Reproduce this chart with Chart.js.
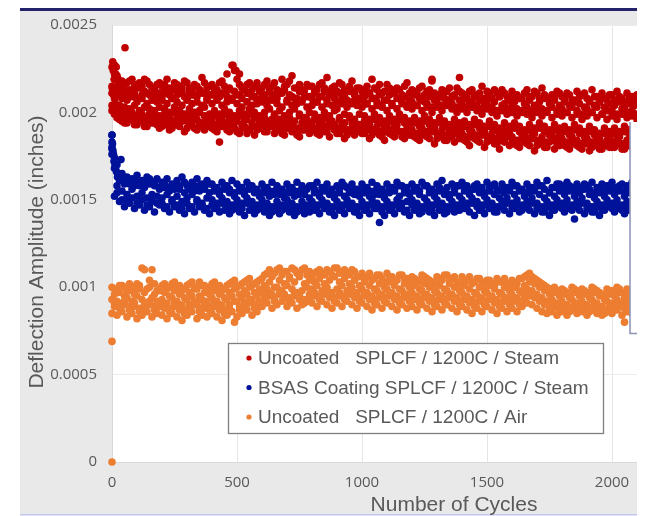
<!DOCTYPE html>
<html>
<head>
<meta charset="utf-8">
<title>Deflection Amplitude vs Number of Cycles</title>
<script src="https://cdn.jsdelivr.net/npm/chart.js@4.4.1/dist/chart.umd.min.js"></script>
<style>
  html, body { margin: 0; padding: 0; background: #fff; }
  #wrap { width: 647px; height: 516px; }
</style>
</head>
<body>
<div id="wrap"><canvas id="myChartScatter" width="647" height="516"></canvas></div>
<script>
/* globals Chart:false */
// amplitudes are in units of 1e-5 inch
const UNIT = 1e-5;

const seriesLabels = [
  'Uncoated   SPLCF / 1200C / Steam',
  'BSAS Coating SPLCF / 1200C / Steam',
  'Uncoated   SPLCF / 1200C / Air'
];
const xTickValues = [0, 500, 1000, 1500, 2000];
const xTickLabels = ['0', '500', '1000', '1500', '2000'];
const yTickLabels = ['0', '0.0005', '0.001', '0.0015', '0.002', '0.0025'];

const cyclesA = [0,20,40,60,80,100,120,140,160,180,200,220,240,260,280,300,320,340,360,380,
  400,420,440,460,480,500,520,540,560,580,600,620,640,660,680,700,720,740,760,780,
  800,820,840,860,880,900,920,940,960,980,1000,1020,1040,1060,1080,1100,1120,1140,1160,1180,
  1200,1220,1240,1260,1280,1300,1320,1340,1360,1380,1400,1420,1440,1460,1480,1500,1520,1540,1560,1580,
  1600,1620,1640,1660,1680,1700,1720,1740,1760,1780,1800,1820,1840,1860,1880,1900,1920,1940,1960,1980,
  2000,2020,2040,2060,2080,2100];
const cyclesB = [10,30,50,70,90,110,130,150,170,190,210,230,250,270,290,310,330,350,370,390,
  410,430,450,470,490,510,530,550,570,590,610,630,650,670,690,710,730,750,770,790,
  810,830,850,870,890,910,930,950,970,990,1010,1030,1050,1070,1090,1110,1130,1150,1170,1190,
  1210,1230,1250,1270,1290,1310,1330,1350,1370,1390,1410,1430,1450,1470,1490,1510,1530,1550,1570,1590,
  1610,1630,1650,1670,1690,1710,1730,1750,1770,1790,1810,1830,1850,1870,1890,1910,1930,1950,1970,1990,
  2010,2030,2050,2070,2090];

// Uncoated SPLCF / 1200C / Steam
const steamUncoated1 = [226,221,218,217,219,216,215,218,214,216, 215,219,213,216,214,217,213,215,220,214,
  216,213,218,222,227,219,214,216,213,217, 214,218,215,213,219,216,221,214,212,216,
  215,213,217,220,214,212,216,213,218,214, 212,215,219,213,211,216,213,214,210,217,
  213,211,215,212,218,210,213,212,209,214, 211,209,213,210,215,212,208,211,213,209,
  212,210,208,213,209,211,214,208,210,212, 209,211,207,212,210,208,213,209,211,207,
  210,212,208,211,209,210];
const steamUncoated2 = [222,214,212,213,211,214,212,210,213,211, 212,210,213,211,209,212,210,213,211,210,
  212,209,211,214,212,210,213,211,209,212, 210,212,209,211,213,210,208,212,210,209,
  211,209,212,210,208,211,209,212,210,208, 209,211,208,210,207,210,212,208,209,207,
  210,208,206,209,207,210,208,206,209,207, 208,206,209,207,205,208,206,209,205,207,
  206,208,205,207,204,206,208,205,207,204, 206,204,207,205,203,206,204,207,203,205,
  204,206,203,205,204];
const steamUncoated3 = [215,209,208,207,209,206,208,205,207,206, 207,205,208,206,204,207,205,206,204,207,
  205,207,204,206,208,205,203,206,204,205, 206,204,207,205,203,206,204,205,207,203,
  204,206,203,205,204,202,205,203,206,204, 203,205,202,204,203,201,204,202,205,203,
  202,204,201,203,200,203,201,204,202,200, 202,200,203,201,199,202,200,198,201,199,
  200,198,201,199,197,200,198,201,197,199, 198,200,197,199,196,198,200,197,199,196,
  198,196,199,197,198,196];
const steamUncoated4 = [208,204,203,202,204,201,203,202,200,203, 202,200,203,201,199,202,200,201,203,199,
  201,199,202,200,198,201,199,202,200,198, 200,202,199,201,198,200,202,199,197,200,
  199,197,200,198,201,197,199,198,196,199, 198,196,199,197,195,198,196,199,197,195,
  197,195,198,196,194,197,195,193,196,194, 195,193,196,194,192,195,193,191,194,192,
  194,192,190,193,191,194,192,190,193,191, 192,190,193,191,189,192,190,188,191,189,
  191,189,192,190,188];
const steamUncoated5 = [204,200,199,198,200,197,199,196,198,197, 196,198,195,197,199,195,197,196,194,197,
  195,193,196,194,197,195,193,196,194,192, 195,193,196,194,192,195,193,191,194,196,
  193,191,194,192,195,191,193,190,194,192, 191,193,190,192,189,192,190,193,189,191,
  190,188,191,189,192,188,190,187,189,191, 188,186,189,187,190,186,188,185,187,189,
  186,184,187,185,188,184,186,183,187,185, 185,183,186,184,182,185,183,186,182,184,
  183,185,182,184,183,185];
const steamUncoated6 = [199,196,194,197,193,195,192,196,194,191, 193,190,194,192,189,193,191,194,190,192,
  190,183,192,189,191,188,192,190,187,191, 189,192,188,190,187,191,189,186,190,188,
  190,187,189,186,190,188,185,189,187,190, 188,185,189,187,184,188,186,189,185,187,
  186,184,187,185,182,186,184,187,183,185, 184,181,185,183,180,184,182,179,183,181,
  182,180,183,181,178,182,180,183,179,181, 181,179,182,180,183,178,181,179,182,180,
  180,182,179,181,180];
const steamUncoated7 = [219,217,216,218,215,217,219,216,214,217, 216,214,217,215,218,214,216,213,217,215,
  214,217,215,213,224,216,214,217,215,213, 216,214,217,212,215,218,214,216,213,215,
  213,216,214,212,215,217,213,215,212,214, 213,211,214,216,212,214,211,213,215,211,
  212,214,210,213,211,209,212,214,210,212, 210,212,209,211,208,211,213,209,211,208,
  210,208,211,209,212,208,210,207,209,211, 208,210,206,209,211,207,209,206,208,210,
  207,209,206,208,207];
const steamUncoated8 = [211,210,211,209,211,208,210,211,209,210, 209,211,208,210,212,208,210,209,211,208,
  210,208,211,209,207,210,208,211,209,207, 209,207,210,208,211,207,209,208,206,209,
  208,206,209,207,210,206,208,207,205,208, 207,205,208,206,204,207,205,208,206,204,
  206,204,207,205,203,206,204,207,205,203, 205,203,206,204,202,205,203,201,204,202,
  204,202,200,203,201,204,202,200,203,201, 202,200,203,201,199,202,200,203,199,201,
  201,199,202,200,201,199];
const steamUncoated9 = [202,201,199,201,198,200,197,199,201,198, 199,197,200,198,196,199,197,200,198,196,
  198,196,199,197,195,198,196,199,197,195, 197,195,198,196,194,197,195,198,196,194,
  196,194,197,195,193,196,194,197,195,193, 195,193,196,194,192,195,193,196,194,192,
  194,192,195,193,191,194,192,190,193,191, 192,190,193,191,189,192,190,188,191,189,
  191,189,187,190,188,191,189,187,190,188, 189,187,190,188,186,189,187,185,188,186,
  188,186,189,187,185];
const steamUncoated10 = [201,197,195,194,196,193,195,192,194,193, 192,194,191,193,195,191,193,190,192,194,
  191,189,192,190,193,189,191,188,192,190, 191,189,192,190,188,191,189,187,190,192,
  190,188,191,189,192,188,190,187,191,189, 188,190,187,189,186,189,187,190,186,188,
  187,185,188,186,189,185,187,184,186,188, 185,183,186,184,187,183,185,182,184,186,
  183,181,184,182,185,181,183,180,184,182, 182,180,183,181,179,182,180,183,179,181,
  180,182,179,181,180,182];
const steamUncoatedExtraCycles = [1,3,5,7,9,11,13,15,17,19,22,26,30,52,484,496,510,1280,1390];
const steamUncoatedExtraAmp = [214,229,224,210,219,227,205,222,226,212,220,216,218,237,227,224,222,219,220];

// BSAS Coating SPLCF / 1200C / Steam
const steamCoated1 = [187,170,165,163,162,164,161,163,160,162, 160,162,159,161,163,158,160,162,159,161,
  159,157,160,158,161,159,157,160,158,156, 159,157,160,158,156,159,157,160,158,156,
  158,160,157,159,156,158,160,157,159,156, 159,157,160,158,156,159,157,160,158,157,
  159,157,160,158,156,159,161,157,159,158, 160,158,156,159,157,160,158,156,159,157,
  160,158,156,159,157,160,158,161,157,159, 158,160,157,159,156,158,160,157,159,158,
  160,157,159,158,160,157];
const steamCoated2 = [174,163,159,161,158,160,157,159,158,156, 157,155,158,156,154,157,155,158,156,154,
  155,153,156,154,152,155,153,156,154,152, 154,152,155,153,151,154,152,155,153,151,
  154,152,155,153,151,154,152,155,153,152, 154,152,155,153,151,154,156,152,154,153,
  155,153,151,154,152,155,153,151,154,152, 155,153,156,154,152,155,153,151,154,156,
  153,155,152,154,156,153,151,154,152,155, 153,155,152,154,156,153,151,154,152,155,
  153,155,152,154,153];
const steamCoated3 = [180,158,155,153,156,152,154,151,153,152, 151,153,150,152,149,151,153,150,148,151,
  150,148,151,149,147,150,148,151,149,147, 150,148,146,149,147,150,148,146,149,147,
  149,147,150,148,146,149,147,150,148,146, 149,147,150,148,146,149,147,150,148,149,
  150,148,146,149,147,150,148,146,149,147, 150,148,151,149,147,150,148,146,149,151,
  148,150,147,149,151,148,146,149,147,150, 148,150,147,149,151,148,146,149,147,150,
  148,150,147,149,148,150];
const steamCoated4 = [152,149,146,148,145,147,144,146,143,147, 145,143,146,144,142,145,143,146,144,142,
  145,143,144,142,145,143,141,144,142,145, 143,141,144,142,145,143,141,144,142,143,
  144,142,145,143,141,144,142,145,143,141, 144,142,145,137,141,144,142,145,143,141,
  144,142,145,143,141,144,142,145,143,144, 145,143,141,144,142,145,143,146,144,142,
  145,143,146,144,142,145,143,141,144,146, 143,145,139,144,142,145,143,141,144,146,
  143,145,142,144,143];
const steamCoated5 = [168,161,162,159,161,158,160,162,159,157, 159,157,156,158,160,156,158,155,157,159,
  157,155,158,156,154,157,155,158,156,154, 157,155,153,156,154,157,155,153,156,158,
  156,154,157,155,153,156,158,154,156,155, 157,155,153,156,154,157,155,158,156,154,
  157,155,158,156,154,157,155,153,156,158, 157,155,158,156,154,157,159,155,157,155,
  158,156,154,157,155,158,156,154,157,159, 156,158,155,157,159,156,154,157,155,158,
  156,158,155,157,156];
const steamCoated6 = [176,154,150,149,151,148,150,147,149,148, 148,146,149,147,145,148,146,149,147,145,
  147,145,148,146,144,147,145,148,146,144, 147,145,143,146,144,147,145,143,146,144,
  146,144,147,145,143,146,144,147,145,143, 146,144,147,145,143,146,144,147,145,144,
  147,145,143,146,144,147,145,143,146,144, 147,145,148,146,144,147,145,143,146,148,
  145,147,144,146,148,145,143,146,144,147, 145,147,144,146,148,145,143,146,144,147,
  145,147,144,146,145,147];
const steamCoatedExtraCycles = [0,0,0,2,4,6,8,12,14,18,22,28,36];
const steamCoatedExtraAmp = [187,183,179,182,178,176,172,170,168,166,163,165,173];

// Uncoated SPLCF / 1200C / Air
const airUncoated1 = [100,99,101,98,100,102,111,99,110,98, 101,99,102,100,98,101,103,99,101,100,
  102,100,98,101,103,100,102,104,101,103, 105,108,106,110,107,109,111,108,110,107,
  106,109,108,110,107,111,109,108,110,106, 108,106,104,107,105,108,106,104,107,105,
  106,104,107,105,103,106,104,107,105,103, 106,104,102,105,103,104,102,105,103,101,
  104,102,105,107,106,104,102,100,99,98, 99,97,100,98,99,97,100,98,96,99,
  98,100,97,99,98,97];
const airUncoated2 = [96,97,95,98,96,99,97,104,96,98, 97,95,98,96,94,97,99,95,97,96,
  98,96,94,97,99,96,98,100,97,99, 101,103,100,104,102,105,103,106,102,104,
  103,105,102,104,106,103,105,102,104,101, 103,101,99,102,100,103,101,99,102,100,
  101,99,102,100,98,101,99,102,100,98, 101,99,97,100,98,101,99,97,100,98,
  100,98,101,103,102,100,98,96,97,95, 96,94,97,95,96,94,97,95,93,96,
  95,97,94,96,95];
const airUncoated3 = [93,92,91,94,92,95,93,91,94,92, 93,91,94,92,90,93,95,91,93,92,
  94,92,90,93,95,92,94,96,93,95, 97,99,96,100,98,101,99,97,98,100,
  99,101,98,100,97,99,101,98,100,97, 99,97,95,98,96,99,97,95,98,96,
  97,95,98,96,94,97,95,98,96,94, 97,95,93,96,94,97,95,93,96,94,
  96,94,97,99,98,96,94,92,93,91, 92,90,93,91,92,90,93,91,89,92,
  91,93,90,92,91,93];
const airUncoated4 = [89,88,90,87,89,86,88,90,87,89, 88,86,89,87,85,88,90,86,88,87,
  89,87,85,88,80,87,89,91,88,90, 93,95,92,96,94,92,95,93,91,94,
  95,93,96,94,92,95,93,96,94,92, 95,93,91,94,92,95,93,91,94,92,
  93,91,94,92,90,93,91,94,92,90, 93,91,89,92,90,93,91,89,92,90,
  92,90,93,95,94,92,90,88,89,87, 88,86,89,87,88,86,89,87,85,88,
  87,89,80,88,87];
const airUncoated5 = [85,84,86,83,85,82,84,86,83,85, 84,82,85,83,81,84,86,82,84,83,
  85,83,81,84,86,83,85,87,84,86, 89,91,88,90,92,89,91,88,90,92,
  91,89,92,90,88,91,89,92,90,88, 91,89,87,90,88,91,89,87,90,88,
  89,87,90,88,86,89,87,90,88,86, 89,87,85,88,86,89,87,85,88,86,
  88,86,89,91,90,88,86,85,86,84, 86,84,87,85,86,84,87,85,84,86,
  85,87,84,86,85,87];
const airUncoated6 = [91,90,92,89,91,88,90,92,89,91, 90,88,91,89,87,90,92,88,90,89,
  91,89,87,90,92,89,91,93,90,92, 95,97,94,98,96,94,97,95,93,96,
  97,95,98,96,94,97,95,98,96,94, 97,95,93,96,94,97,95,93,96,94,
  95,93,96,94,92,95,93,96,94,92, 95,93,91,94,92,95,93,91,94,92,
  94,92,95,97,96,94,92,90,91,89, 90,88,91,89,90,88,91,89,87,90,
  89,91,88,90,89];
const airUncoated7 = [99,101,100,102,99,101,110,100,102,99, 102,100,103,101,99,102,100,103,101,99,
  103,101,99,102,104,101,103,105,102,104, 107,110,108,111,109,106,110,108,111,109,
  108,110,107,109,111,108,110,107,109,106, 106,108,105,107,103,106,104,107,105,103,
  105,103,106,104,102,105,107,104,106,102, 104,106,103,105,102,104,101,103,105,102,
  103,105,106,108,105,103,101,99,100,98, 98,96,99,97,98,96,99,97,95,98,
  97,99,96,98,97];
const airUncoatedExtraCycles = [0, 0];
const airUncoatedExtraAmp = [69, 0];

function toPoints(cycles, amps) {
  return amps.map((v, i) => ({ x: cycles[i], y: v * UNIT }));
}

const steamUncoatedData = [].concat(
  toPoints(cyclesA, steamUncoated1), toPoints(cyclesB, steamUncoated2),
  toPoints(cyclesA, steamUncoated3), toPoints(cyclesB, steamUncoated4),
  toPoints(cyclesA, steamUncoated5), toPoints(cyclesB, steamUncoated6),
  toPoints(cyclesB, steamUncoated7), toPoints(cyclesA, steamUncoated8),
  toPoints(cyclesB, steamUncoated9), toPoints(cyclesA, steamUncoated10),
  toPoints(steamUncoatedExtraCycles, steamUncoatedExtraAmp));
const steamCoatedData = [].concat(
  toPoints(cyclesA, steamCoated1), toPoints(cyclesB, steamCoated2),
  toPoints(cyclesA, steamCoated3), toPoints(cyclesB, steamCoated4),
  toPoints(cyclesB, steamCoated5), toPoints(cyclesA, steamCoated6),
  toPoints(steamCoatedExtraCycles, steamCoatedExtraAmp));
const airUncoatedData = [].concat(
  toPoints(cyclesA, airUncoated1), toPoints(cyclesB, airUncoated2),
  toPoints(cyclesA, airUncoated3), toPoints(cyclesB, airUncoated4),
  toPoints(cyclesA, airUncoated5), toPoints(cyclesB, airUncoated6),
  toPoints(cyclesB, airUncoated7),
  toPoints(airUncoatedExtraCycles, airUncoatedExtraAmp));

const textGray = '#595959';

// slide frame, legend box and axis titles
const slidePanel = {
  id: 'slidePanel',
  beforeDraw(chart) {
    const { ctx, chartArea: a } = chart;
    ctx.save();
    ctx.fillStyle = '#ffffff';
    ctx.fillRect(0, 0, chart.width, chart.height);
    ctx.fillStyle = '#e9e9e9';
    ctx.fillRect(20, 11, 617, 503);
    ctx.fillStyle = '#ffffff';
    ctx.fillRect(a.left, a.top, a.right - a.left, a.bottom - a.top);
    ctx.fillStyle = '#23236b';
    ctx.fillRect(20, 8, 617, 3);
    ctx.fillStyle = '#c6c6ee';
    ctx.fillRect(20, 514, 617, 1.5);
    ctx.restore();
  },
  afterDraw(chart) {
    const { ctx } = chart;
    ctx.save();
    ctx.fillStyle = '#ffffff';
    ctx.fillRect(637, 0, 10, chart.height);
    ctx.fillRect(630, 122, 7, 211.5);
    ctx.strokeStyle = '#8c93b5';
    ctx.lineWidth = 1.5;
    ctx.beginPath();
    ctx.moveTo(630, 122);
    ctx.lineTo(630, 333.5);
    ctx.lineTo(637, 333.5);
    ctx.stroke();

    // legend
    ctx.fillStyle = '#ffffff';
    ctx.fillRect(228.5, 343.5, 375, 90);
    ctx.strokeStyle = '#7f7f7f';
    ctx.lineWidth = 1.3;
    ctx.strokeRect(228.5, 343.5, 375, 90);
    ctx.font = '19px "Liberation Sans", Arial, sans-serif';
    ctx.textBaseline = 'middle';
    ctx.textAlign = 'left';
    chart.data.datasets.forEach((ds, i) => {
      const cy = 358 + i * 29.5;
      ctx.fillStyle = ds.backgroundColor;
      ctx.beginPath();
      ctx.arc(249, cy, 2.6, 0, Math.PI * 2);
      ctx.fill();
      ctx.fillStyle = textGray;
      ctx.fillText(ds.label, 258, cy + 1);
    });

    // axis titles
    ctx.font = '21px "Liberation Sans", Arial, sans-serif';
    ctx.fillStyle = textGray;
    ctx.textAlign = 'center';
    ctx.fillText('Number of Cycles', 454, 505);
    ctx.translate(37, 252);
    ctx.rotate(-Math.PI / 2);
    ctx.fillText('Deflection Amplitude (inches)', 0, 0);
    ctx.restore();
  }
};

const myChartScatter = document.getElementById('myChartScatter');
if (myChartScatter) {
  new Chart(myChartScatter, {
    type: 'scatter',
    data: {
      datasets: [{
        label: seriesLabels[0],
        data: steamUncoatedData,
        backgroundColor: '#c00000'
      }, {
        label: seriesLabels[1],
        data: steamCoatedData,
        backgroundColor: '#00129a'
      }, {
        label: seriesLabels[2],
        data: airUncoatedData,
        backgroundColor: '#ed7d31'
      }]
    },
    options: {
      responsive: false,
      animation: false,
      devicePixelRatio: 1,
      events: [],
      clip: false,
      layout: { padding: { left: 0, right: 10, top: 25, bottom: 0 } },
      elements: {
        point: { radius: 3.8, borderWidth: 0, hoverRadius: 3.8 }
      },
      plugins: {
        legend: { display: false },
        tooltip: { enabled: false },
        title: { display: false }
      },
      scales: {
        x: {
          type: 'linear',
          min: 0,
          max: 2100,
          afterBuildTicks: (s) => {
            s.ticks = xTickValues.map((v) => ({ value: v }));
            s.min = 0;
            s.max = 2100;
          },
          afterFit: (s) => { s.height = 54; s.paddingLeft = 0; s.paddingRight = 0; },
          grid: { color: '#e6e6e6', drawTicks: false },
          border: { color: '#d9d9d9' },
          ticks: {
            padding: 12,
            color: textGray,
            font: { family: '"Open Sans", sans-serif', size: 15 },
            callback: (v, i) => xTickLabels[i]
          }
        },
        y: {
          min: 0,
          max: 0.0025,
          afterFit: (s) => { s.width = 112; s.paddingTop = 0; s.paddingBottom = 0; },
          grid: { color: '#ececec', drawTicks: false },
          border: { color: '#d9d9d9' },
          ticks: {
            stepSize: 0.0005,
            padding: 15,
            color: textGray,
            font: { family: '"Open Sans", sans-serif', size: 15 },
            callback: (v, i) => yTickLabels[i]
          }
        }
      }
    },
    plugins: [slidePanel]
  });
}
</script>
</body>
</html>
